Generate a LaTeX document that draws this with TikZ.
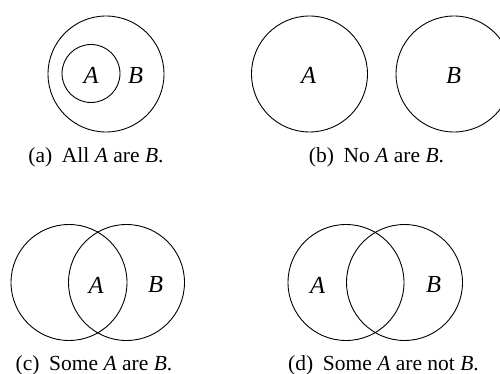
\documentclass[tikz,border=0pt]{standalone}
\usepackage{fontspec}
\setmainfont{Liberation Serif}
\begin{document}
\begin{tikzpicture}[x=1pt,y=-1pt,
  setc/.style={circle,draw,line width=0.9pt,inner sep=0pt,minimum size=#1},
  lbl/.style={inner sep=0pt,font=\fontsize{24.5}{26}\selectfont\itshape},
  capt/.style={inner sep=0pt,anchor=base,font=\fontsize{21.5}{23}\selectfont}]
\useasboundingbox (0,0) rectangle (500,374);
\clip (0,0) rectangle (500,374);
% (a)
\node[setc=116pt] (aB) at (106,74) {};
\node[setc=58pt] (aA) at (91,73.5) {};
\node[lbl] (aAl) at (91,75.5) {A};
\node[lbl] (aBl) at (135.5,75.5) {B};
\node[capt] (ca) at (96,163) {(a)\hspace{0.45em}All \textit{A} are \textit{B}.};
% (b)
\node[setc=116pt] (bA) at (309.5,74) {};
\node[setc=116pt] (bB) at (454,74) {};
\node[lbl] (bAl) at (308.5,75.5) {A};
\node[lbl] (bBl) at (453.5,75.5) {B};
\node[capt] (cb) at (376.5,163) {(b)\hspace{0.45em}No \textit{A} are \textit{B}.};
% (c)
\node[setc=116pt] (cL) at (69,282.5) {};
\node[setc=116pt] (cR) at (126.5,282.5) {};
\node[lbl] (cAl) at (96,285) {A};
\node[lbl] (cBl) at (155.5,285) {B};
\node[capt] (cc) at (94,370) {(c)\hspace{0.45em}Some \textit{A} are \textit{B}.};
% (d)
\node[setc=116pt] (dL) at (346,282.5) {};
\node[setc=116pt] (dR) at (404.5,282.5) {};
\node[lbl] (dAl) at (317.5,285) {A};
\node[lbl] (dBl) at (433.5,285) {B};
\node[capt] (cd) at (383.5,370) {(d)\hspace{0.45em}Some \textit{A} are not \textit{B}.};
\end{tikzpicture}
\end{document}
